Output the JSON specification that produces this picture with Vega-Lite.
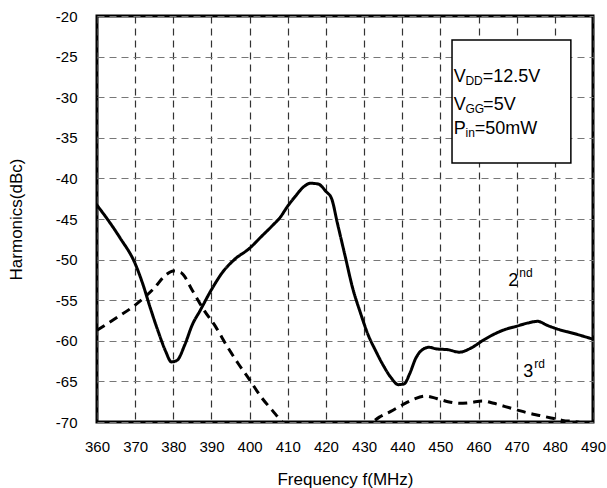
{
  "$schema": "https://vega.github.io/schema/vega-lite/v6.json",
  "autosize": "none",
  "width": 496,
  "height": 406,
  "padding": {"left": 97, "top": 16, "right": 14, "bottom": 66},
  "background": "white",
  "config": {
    "view": {"stroke": "black", "strokeWidth": 3},
    "axis": {
      "domain": false,
      "ticks": false,
      "tickSize": 0,
      "labelFont": "Liberation Sans",
      "labelFontSize": 15,
      "labelColor": "black",
      "labelOverlap": false,
      "labelFlush": false,
      "labelExpr": "toString(datum.value)",
      "titleFont": "Liberation Sans",
      "titleFontSize": 17,
      "titleFontWeight": "normal",
      "titleColor": "black",
      "gridDash": [7, 5],
      "gridWidth": 1.2
    },
    "axisX": {"gridColor": "#333333", "labelPadding": 17, "titlePadding": 17, "tickCount": 13},
    "axisY": {"gridColor": "#777777", "labelPadding": 20, "titlePadding": 30, "tickCount": 10}
  },
  "datasets": {
    "curves": [
      {"f": 360, "v": -43.3, "s": "2nd"}, {"f": 363, "v": -45.2, "s": "2nd"}, {"f": 366, "v": -47.3, "s": "2nd"},
      {"f": 370, "v": -50.5, "s": "2nd"}, {"f": 372, "v": -53, "s": "2nd"}, {"f": 374, "v": -56, "s": "2nd"},
      {"f": 376, "v": -58.8, "s": "2nd"}, {"f": 378, "v": -61.3, "s": "2nd"}, {"f": 379.5, "v": -62.6, "s": "2nd"},
      {"f": 381, "v": -62.4, "s": "2nd"}, {"f": 383, "v": -60.5, "s": "2nd"}, {"f": 385, "v": -58, "s": "2nd"},
      {"f": 387, "v": -56.3, "s": "2nd"}, {"f": 390, "v": -53.7, "s": "2nd"}, {"f": 393, "v": -51.5, "s": "2nd"},
      {"f": 396, "v": -50, "s": "2nd"}, {"f": 400, "v": -48.6, "s": "2nd"}, {"f": 403, "v": -47.2, "s": "2nd"},
      {"f": 406, "v": -45.8, "s": "2nd"}, {"f": 408, "v": -44.8, "s": "2nd"}, {"f": 410, "v": -43.4, "s": "2nd"},
      {"f": 412, "v": -42.2, "s": "2nd"}, {"f": 414, "v": -41.1, "s": "2nd"}, {"f": 416, "v": -40.6, "s": "2nd"},
      {"f": 418, "v": -40.7, "s": "2nd"}, {"f": 420, "v": -41.6, "s": "2nd"}, {"f": 421.5, "v": -42.5, "s": "2nd"},
      {"f": 423, "v": -45.5, "s": "2nd"}, {"f": 425, "v": -49.5, "s": "2nd"}, {"f": 427, "v": -53.5, "s": "2nd"},
      {"f": 429, "v": -56.5, "s": "2nd"}, {"f": 431, "v": -59.2, "s": "2nd"}, {"f": 433, "v": -61.2, "s": "2nd"},
      {"f": 435, "v": -63, "s": "2nd"}, {"f": 437, "v": -64.5, "s": "2nd"}, {"f": 439, "v": -65.4, "s": "2nd"},
      {"f": 440.5, "v": -65.3, "s": "2nd"}, {"f": 442, "v": -64, "s": "2nd"}, {"f": 443.5, "v": -62.2, "s": "2nd"},
      {"f": 445, "v": -61.2, "s": "2nd"}, {"f": 447, "v": -60.8, "s": "2nd"}, {"f": 449, "v": -61, "s": "2nd"},
      {"f": 452, "v": -61.1, "s": "2nd"}, {"f": 455, "v": -61.4, "s": "2nd"}, {"f": 458, "v": -60.9, "s": "2nd"},
      {"f": 461, "v": -60, "s": "2nd"}, {"f": 464, "v": -59.2, "s": "2nd"}, {"f": 467, "v": -58.6, "s": "2nd"},
      {"f": 470, "v": -58.2, "s": "2nd"}, {"f": 473, "v": -57.8, "s": "2nd"}, {"f": 475.5, "v": -57.6, "s": "2nd"},
      {"f": 478, "v": -58.1, "s": "2nd"}, {"f": 481, "v": -58.6, "s": "2nd"}, {"f": 485, "v": -59.1, "s": "2nd"},
      {"f": 490, "v": -59.8, "s": "2nd"},
      {"f": 360, "v": -58.7, "s": "3rd"}, {"f": 365, "v": -57.2, "s": "3rd"}, {"f": 370, "v": -55.6, "s": "3rd"},
      {"f": 375, "v": -53.5, "s": "3rd"}, {"f": 378, "v": -51.9, "s": "3rd"}, {"f": 380, "v": -51.4, "s": "3rd"},
      {"f": 382, "v": -51.6, "s": "3rd"}, {"f": 385, "v": -53.8, "s": "3rd"}, {"f": 388, "v": -56.2, "s": "3rd"},
      {"f": 391, "v": -58.2, "s": "3rd"}, {"f": 394, "v": -60.6, "s": "3rd"}, {"f": 397, "v": -62.8, "s": "3rd"},
      {"f": 400, "v": -64.8, "s": "3rd"}, {"f": 403, "v": -66.9, "s": "3rd"}, {"f": 406, "v": -68.6, "s": "3rd"},
      {"f": 409, "v": -70.2, "s": "3rd"}, {"f": 413, "v": -71.5, "s": "3rd"}, {"f": 420, "v": -72.5, "s": "3rd"},
      {"f": 428, "v": -71.3, "s": "3rd"}, {"f": 432, "v": -70.1, "s": "3rd"}, {"f": 434, "v": -69.4, "s": "3rd"},
      {"f": 437, "v": -68.7, "s": "3rd"}, {"f": 440, "v": -67.9, "s": "3rd"}, {"f": 443, "v": -67.2, "s": "3rd"},
      {"f": 446, "v": -66.8, "s": "3rd"}, {"f": 449, "v": -67.1, "s": "3rd"}, {"f": 452, "v": -67.5, "s": "3rd"},
      {"f": 455, "v": -67.7, "s": "3rd"}, {"f": 458, "v": -67.6, "s": "3rd"}, {"f": 461, "v": -67.4, "s": "3rd"},
      {"f": 464, "v": -67.7, "s": "3rd"}, {"f": 467, "v": -68.1, "s": "3rd"}, {"f": 470, "v": -68.5, "s": "3rd"},
      {"f": 473, "v": -68.9, "s": "3rd"}, {"f": 476, "v": -69.2, "s": "3rd"}, {"f": 479, "v": -69.5, "s": "3rd"},
      {"f": 482, "v": -69.8, "s": "3rd"}, {"f": 486, "v": -70, "s": "3rd"}, {"f": 490, "v": -70.5, "s": "3rd"}
    ],
    "box": [{"f1": 453.05, "f2": 484.2, "v1": -22.96, "v2": -38.1}],
    "labels": [
      {"f": 453.5, "v": -28.17, "t": "V", "k": "main"},
      {"f": 456.55, "v": -28.55, "t": "DD", "k": "sub"},
      {"f": 461.1, "v": -28.17, "t": "=12.5V", "k": "main"},
      {"f": 453.5, "v": -31.58, "t": "V", "k": "main"},
      {"f": 456.55, "v": -31.95, "t": "GG", "k": "sub"},
      {"f": 461.2, "v": -31.58, "t": "=5V", "k": "main"},
      {"f": 453.5, "v": -34.57, "t": "P", "k": "main"},
      {"f": 456.6, "v": -34.9, "t": "in", "k": "sub"},
      {"f": 459.0, "v": -34.57, "t": "=50mW", "k": "main"},
      {"f": 467.8, "v": -53.25, "t": "2", "k": "main"},
      {"f": 470.7, "v": -52.1, "t": "nd", "k": "sup"},
      {"f": 471.7, "v": -64.42, "t": "3", "k": "main"},
      {"f": 474.6, "v": -63.35, "t": "rd", "k": "sup"}
    ]
  },
  "layer": [
    {
      "data": {"name": "curves"},
      "mark": {"type": "line", "interpolate": "monotone", "clip": true, "strokeWidth": 3, "color": "black"},
      "encoding": {
        "x": {"field": "f", "type": "quantitative",
              "scale": {"domain": [360, 490], "nice": false, "zero": false},
              "axis": {"title": "Frequency f(MHz)"}},
        "y": {"field": "v", "type": "quantitative",
              "scale": {"domain": [-70, -20], "nice": false, "zero": false},
              "axis": {"title": "Harmonics(dBc)"}},
        "detail": {"field": "s"},
        "strokeDash": {"field": "s", "type": "nominal", "scale": {"domain": ["2nd", "3rd"], "range": [[1, 0], [9, 6]]}, "legend": null}
      }
    },
    {
      "data": {"name": "box"},
      "mark": {"type": "rect", "fill": "white", "stroke": "black", "strokeWidth": 1.5},
      "encoding": {
        "x": {"field": "f1", "type": "quantitative", "axis": {"title": "Frequency f(MHz)"}},
        "x2": {"field": "f2"},
        "y": {"field": "v1", "type": "quantitative", "axis": {"title": "Harmonics(dBc)"}},
        "y2": {"field": "v2"}
      }
    },
    {
      "data": {"name": "labels"},
      "transform": [{"filter": "datum.k === 'main'"}],
      "mark": {"type": "text", "align": "left", "baseline": "alphabetic", "font": "Liberation Sans", "fontSize": 18, "color": "black"},
      "encoding": {
        "x": {"field": "f", "type": "quantitative", "axis": {"title": "Frequency f(MHz)"}},
        "y": {"field": "v", "type": "quantitative", "axis": {"title": "Harmonics(dBc)"}},
        "text": {"field": "t"}
      }
    },
    {
      "data": {"name": "labels"},
      "transform": [{"filter": "datum.k !== 'main'"}],
      "mark": {"type": "text", "align": "left", "baseline": "alphabetic", "font": "Liberation Sans", "fontSize": 12, "color": "black"},
      "encoding": {
        "x": {"field": "f", "type": "quantitative", "axis": {"title": "Frequency f(MHz)"}},
        "y": {"field": "v", "type": "quantitative", "axis": {"title": "Harmonics(dBc)"}},
        "text": {"field": "t"}
      }
    }
  ]
}
